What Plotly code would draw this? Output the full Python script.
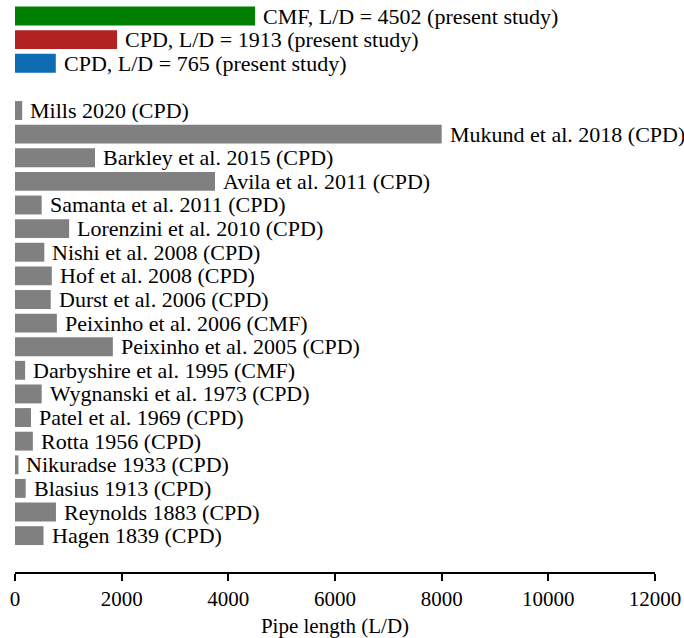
import plotly.graph_objects as go

labels = [
    "CMF, L/D = 4502 (present study)",
    "CPD, L/D = 1913 (present study)",
    "CPD, L/D = 765 (present study)",
    "",
    "Mills 2020 (CPD)",
    "Mukund et al. 2018 (CPD)",
    "Barkley et al. 2015 (CPD)",
    "Avila et al. 2011 (CPD)",
    "Samanta et al. 2011 (CPD)",
    "Lorenzini et al. 2010 (CPD)",
    "Nishi et al. 2008 (CPD)",
    "Hof et al. 2008 (CPD)",
    "Durst et al. 2006 (CPD)",
    "Peixinho et al. 2006 (CMF)",
    "Peixinho et al. 2005 (CPD)",
    "Darbyshire et al. 1995 (CMF)",
    "Wygnanski et al. 1973 (CPD)",
    "Patel et al. 1969 (CPD)",
    "Rotta 1956 (CPD)",
    "Nikuradse 1933 (CPD)",
    "Blasius 1913 (CPD)",
    "Reynolds 1883 (CPD)",
    "Hagen 1839 (CPD)",
]
values = [4502, 1913, 765, None,
          135, 8000, 1500, 3750, 500, 1015, 550, 690, 670, 785, 1835,
          190, 500, 300, 335, 65, 200, 768, 535]
colors = ["#008000", "#B22222", "#0F6BB2", "#808080"] + ["#808080"] * 19

rows = list(range(len(labels)))
font_family = "Liberation Serif, serif"

fig = go.Figure()
fig.add_trace(go.Bar(
    x=[v if v is not None else 0 for v in values],
    y=rows,
    orientation="h",
    marker=dict(color=colors, line=dict(width=0)),
    width=0.8,
    hoverinfo="skip",
))

for r, v, lab in zip(rows, values, labels):
    if v is None:
        continue
    fig.add_annotation(
        x=v, y=r, text=lab, showarrow=False,
        xanchor="left", yanchor="middle", xshift=6,
        font=dict(family=font_family, size=22, color="black"),
    )

fig.update_layout(
    width=684, height=638,
    margin=dict(l=15, r=29, t=0, b=66),
    paper_bgcolor="white", plot_bgcolor="white",
    showlegend=False,
    font=dict(family=font_family, size=21, color="black"),
    xaxis=dict(
        range=[0, 12000],
        tickvals=[0, 2000, 4000, 6000, 8000, 10000, 12000],
        ticktext=["0", "2000", "4000", "6000", "8000", "10000", "12000"],
        showline=True, linecolor="black", linewidth=1.5,
        ticks="outside", ticklen=7, tickwidth=1.5, tickcolor="black",
        showgrid=False, zeroline=False,
        tickfont=dict(family=font_family, size=21, color="black"),
        title=dict(text="Pipe length (L/D)", standoff=9,
                   font=dict(family=font_family, size=21, color="black")),
    ),
    yaxis=dict(
        range=[23.54, -0.68],
        showticklabels=False, showline=False, showgrid=False,
        zeroline=False, ticks="",
    ),
)

fig.write_html("out.html")
